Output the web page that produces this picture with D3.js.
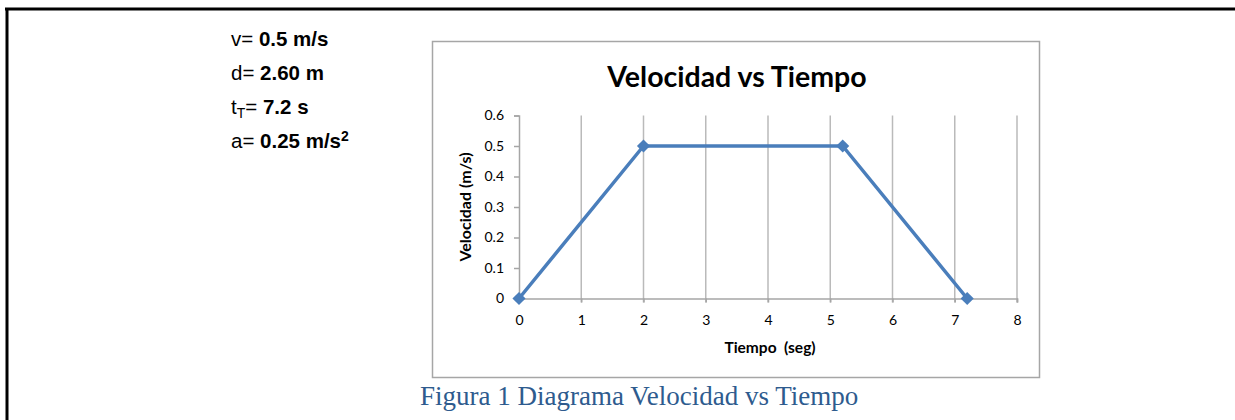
<!DOCTYPE html>
<html>
<head>
<meta charset="utf-8">
<script src="https://cdn.jsdelivr.net/npm/d3@7"></script>
<style>
  body { margin: 0; background: #fff; }
  svg { display: block; }
</style>
</head>
<body>
<div id="grafico"></div>
<script>
// datos de la gráfica
let tiempos = [0, 2, 5.2, 7.2];
let velocidades = [0, 0.5, 0.5, 0];
let ticksX = [0, 1, 2, 3, 4, 5, 6, 7, 8];
let ticksY = [0, 0.1, 0.2, 0.3, 0.4, 0.5, 0.6];

// textos de resultados a la izquierda
let etiquetas = ["v", "d", "t", "a"];
let valores = ["0.5 m/s", "2.60 m", "7.2 s", "0.25 m/s"];

let datos = tiempos.map(function(t, i) { return {t: t, v: velocidades[i]}; });

let width = 1235;
let height = 420;

let svg = d3.select("#grafico").append("svg")
    .attr("width", width)
    .attr("height", height);

// bordes negros de la página
svg.append("line")
    .attr("x1", 5).attr("x2", width)
    .attr("y1", 9).attr("y2", 9)
    .attr("stroke", "#000").attr("stroke-width", 3);
svg.append("line")
    .attr("x1", 7).attr("x2", 7)
    .attr("y1", 8).attr("y2", height)
    .attr("stroke", "#000").attr("stroke-width", 3);

// bloque de resultados
let bloque = svg.append("g")
    .style("font-family", "'Liberation Sans', Arial, sans-serif")
    .style("font-size", "20.5px")
    .attr("fill", "#000");

etiquetas.forEach(function(et, i) {
    let txt = bloque.append("text")
        .attr("x", 231)
        .attr("y", 46 + i * 34);
    txt.append("tspan").text(et);
    if (et === "t") {
        txt.append("tspan").attr("font-size", "14px").attr("dy", 4).text("T");
        txt.append("tspan").attr("dy", -4).text("= ");
    } else {
        txt.append("tspan").text("= ");
    }
    txt.append("tspan").attr("font-weight", "bold").text(valores[i]);
    if (et === "a") {
        txt.append("tspan").attr("font-weight", "bold")
            .attr("font-size", "14px").attr("dy", -7).text("2");
    }
});

// marco del gráfico
svg.append("rect")
    .attr("x", 432.5).attr("y", 41.5)
    .attr("width", 607).attr("height", 336)
    .attr("fill", "#fff")
    .attr("stroke", "#a6a6a6")
    .attr("stroke-width", 1.5);

let x = d3.scaleLinear().domain([0, 8]).range([519, 1017]);
let y = d3.scaleLinear().domain([0, 0.6]).range([298.5, 115.5]);

let fuenteGrafico = "Lato, 'Open Sans', sans-serif";

// título
svg.append("text")
    .attr("x", 737).attr("y", 87)
    .attr("text-anchor", "middle")
    .style("font-family", fuenteGrafico)
    .style("font-weight", "bold")
    .style("font-size", "28.5px")
    .attr("fill", "#000")
    .text("Velocidad vs Tiempo");

// líneas de división verticales
svg.append("g")
    .selectAll("line")
    .data(ticksX.slice(1))
    .join("line")
    .attr("x1", function(d) { return x(d); })
    .attr("x2", function(d) { return x(d); })
    .attr("y1", y(0.6))
    .attr("y2", y(0) + 4)
    .attr("stroke", "#bababa")
    .attr("stroke-width", 1.5);

// eje X
let ejeX = svg.append("g")
    .attr("transform", "translate(0," + y(0) + ")")
    .call(d3.axisBottom(x).tickValues(ticksX).tickSize(4).tickFormat(d3.format("d")));
ejeX.select(".domain").attr("stroke", "#a6a6a6").attr("stroke-width", 1.5);
ejeX.selectAll(".tick line").attr("stroke", "#a6a6a6").attr("stroke-width", 1.5);
ejeX.selectAll("text")
    .attr("y", 17)
    .style("font-family", fuenteGrafico)
    .style("font-size", "14px")
    .attr("fill", "#000");

// eje Y
let ejeY = svg.append("g")
    .attr("transform", "translate(" + x(0) + ",0)")
    .call(d3.axisLeft(y).tickValues(ticksY).tickSize(5).tickFormat(function(d) { return d3.format("")(+d.toFixed(1)); }));
ejeY.select(".domain").attr("stroke", "#a6a6a6").attr("stroke-width", 1.5);
ejeY.selectAll(".tick line").attr("stroke", "#a6a6a6").attr("stroke-width", 1.5);
ejeY.selectAll("text")
    .attr("x", -15)
    .style("font-family", fuenteGrafico)
    .style("font-size", "14px")
    .attr("fill", "#000");

// títulos de ejes
svg.append("text")
    .attr("transform", "translate(471," + ((y(0) + y(0.6)) / 2) + ") rotate(-90)")
    .attr("text-anchor", "middle")
    .style("font-family", fuenteGrafico)
    .style("font-weight", "bold")
    .style("font-size", "16px")
    .text("Velocidad (m/s)");

svg.append("text")
    .attr("x", (x(0) + x(8)) / 2 + 2)
    .attr("y", 353)
    .attr("text-anchor", "middle")
    .attr("xml:space", "preserve")
    .style("white-space", "pre")
    .style("font-family", fuenteGrafico)
    .style("font-weight", "bold")
    .style("font-size", "15.5px")
    .text("Tiempo  (seg)");

// línea de la serie
let linea = d3.line()
    .x(function(d) { return x(d.t); })
    .y(function(d) { return y(d.v); });

svg.append("path")
    .datum(datos)
    .attr("fill", "none")
    .attr("stroke", "#4a7ebb")
    .attr("stroke-width", 3.5)
    .attr("stroke-linejoin", "round")
    .attr("d", linea);

// marcadores en rombo
svg.append("g")
    .selectAll("path")
    .data(datos)
    .join("path")
    .attr("transform", function(d) { return "translate(" + x(d.t) + "," + y(d.v) + ")"; })
    .attr("d", d3.symbol().type(d3.symbolDiamond2).size(110))
    .attr("fill", "#4a7ebb");

// pie de figura
svg.append("text")
    .attr("x", 420).attr("y", 405)
    .style("font-family", "'Liberation Serif', 'Times New Roman', serif")
    .style("font-size", "27px")
    .attr("fill", "#2e5b8e")
    .text("Figura 1 Diagrama Velocidad vs Tiempo");
</script>
</body>
</html>
